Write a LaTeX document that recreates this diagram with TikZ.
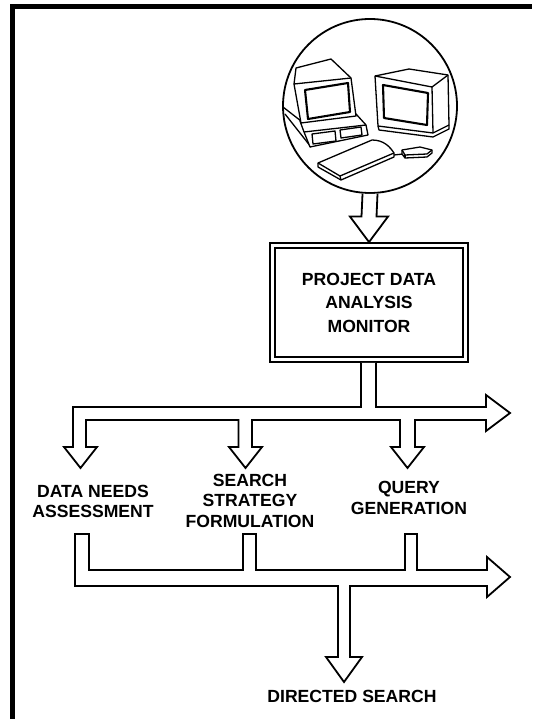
\documentclass[tikz,border=0pt]{standalone}
\usepackage{fontspec}
\setmainfont{Liberation Sans}
\usetikzlibrary{calc}
\newcommand{\pagew}{532}
\newcommand{\pageh}{719}
\newcommand{\shafthw}{7.5}
\newcommand{\lensx}{370}
\newcommand{\lensy}{106}
\newcommand{\lensr}{87}
\tikzset{
  frame line/.style={line width=5.4pt, line join=miter},
  outline/.style={draw, line width=1.8pt, fill=white, line join=miter},
  monitorbox/.style={draw, double, double distance=3pt, line width=1.8pt,
    minimum width=193pt, minimum height=114pt, align=center,
    font=\bfseries\fontsize{17.6}{23.5}\selectfont},
  label/.style={font=\bfseries\fontsize{17.6}{20.6}\selectfont, align=center, inner sep=0pt},
  lens/.style={circle, draw, line width=1.8pt, minimum size=174pt, inner sep=0pt},
  sketch/.style={line width=1.3pt, line join=round},
  screen/.style={line width=2.1pt, line join=round},
}

\begin{document}
\begin{tikzpicture}[x=1pt,y=-1pt]
  \useasboundingbox (0,0) rectangle (\pagew,\pageh);
  % frame, left and top only
  \draw[frame line] (12.7,\pageh) -- (12.7,6.7) -- (\pagew,6.7);

  % workstation
  \node[lens] (lens) at (\lensx,\lensy) {};
  \begin{scope}
    \clip (\lensx,\lensy) circle (86);
    % right monitor
    \draw[sketch, fill=white] (375,76) -- (409,69) -- (448,75) -- (449,125)
      -- (433,133) -- (378,126) -- cycle;
    \draw[sketch] (375,76) -- (432,87) -- (448,75);
    \draw[sketch] (432,87) -- (433,133);
    \draw[screen] (383,85) -- (428,93) -- (427,125) -- (384,118) -- cycle;
    \draw[sketch] (378,126) -- (379,130) -- (433,137) -- (449,129) -- (449,125);
    % keyboard
    \draw[sketch, fill=white] (318,163) -- (372,140)
      .. controls (384,140) and (390,147) .. (394,153)
      -- (394,157) -- (341,180) -- (318,167) -- cycle;
    \draw[sketch] (318,163) -- (340,176) -- (394,153);
    \draw[sketch] (340,176) -- (341,180);
    % cable and mouse
    \draw[sketch] (394,155) -- (403,154);
    \draw[sketch, fill=white] (402,150) -- (420,147) -- (432,150) -- (432,153)
      -- (427,157) -- (405,158) -- (402,154) -- cycle;
    \draw[sketch] (402,150) -- (405,155) -- (427,154) -- (432,150);
    \draw[sketch] (405,155) -- (405,158);
    % terminal: desk lines
    \draw[sketch] (283,107) -- (301,121);
    \draw[sketch] (285,114) -- (311,147);
    % terminal: console
    \draw[sketch, fill=white] (300,121) -- (356,114) -- (366,125) -- (368,135)
      -- (310,147) -- (304,132) -- cycle;
    \draw[sketch] (304,132) -- (366,125);
    \draw[sketch] (312,134) -- (335,131) -- (336,141) -- (313,144) -- cycle;
    \draw[sketch] (340,130) -- (361,127) -- (362,135) -- (341,138) -- cycle;
    % terminal: housing
    \draw[sketch, fill=white] (294,84) -- (296,68) -- (331,59) -- (351,78)
      -- (356,116) -- (301,123) -- cycle;
    \draw[sketch] (294,84) -- (351,78);
    \draw[screen] (305,90) -- (348,83) -- (350,112) -- (308,119) -- cycle;
  \end{scope}

  % monitor box
  \node[monitorbox] (monitor) at (369,302.5) {PROJECT DATA\\ANALYSIS\\MONITOR};

  % arrow into the box
  \draw[outline] ($(lens.south)+(-\shafthw,0)$) -- ($(monitor.north)+(-\shafthw,-28)$)
    -- ($(monitor.north)+(-19,-28)$) -- ($(monitor.north)+(0,-2.5)$)
    -- ($(monitor.north)+(19,-28)$) -- ($(monitor.north)+(\shafthw,-28)$)
    -- ($(lens.south)+(\shafthw,0)$);

  % upper branch
  \draw[outline] ($(monitor.south)+(-8,2.5)$) -- (361,407) -- (73,407) -- (73,447)
    -- (64,447) -- (80.5,468) -- (97,447) -- (86,447) -- (86,420)
    -- (238.5,420) -- (238.5,447) -- (229,447) -- (245.5,468) -- (262,447)
    -- (252,447) -- (252,420)
    -- (400,420) -- (400,447) -- (391,447) -- (407.5,468) -- (424,447)
    -- (415,447) -- (415,420)
    -- (486,420) -- (486,431) -- (510,413) -- (486,395) -- (486,407)
    -- (376,407) -- ($(monitor.south)+(7,2.5)$);

  % labels
  \node[label] (needs) at (93,501.3) {DATA NEEDS\\ASSESSMENT};
  \node[label] (strategy) at (250,500.7) {SEARCH\\STRATEGY\\FORMULATION};
  \node[label] (query) at (409,497.8) {QUERY\\GENERATION};
  \node[label] (directed) at (352,696) {DIRECTED SEARCH};

  % lower branch
  \draw[outline] (75,534) -- (75,586) -- (338,586) -- (338,657) -- (326,657)
    -- (344,682) -- (362,657) -- (350,657) -- (350,586)
    -- (487,586) -- (487,597) -- (510,577) -- (487,557) -- (487,570)
    -- (417,570) -- (417,534) -- (405,534) -- (405,570)
    -- (256,570) -- (256,534) -- (243,534) -- (243,570)
    -- (89,570) -- (89,534) -- cycle;
\end{tikzpicture}
\end{document}
